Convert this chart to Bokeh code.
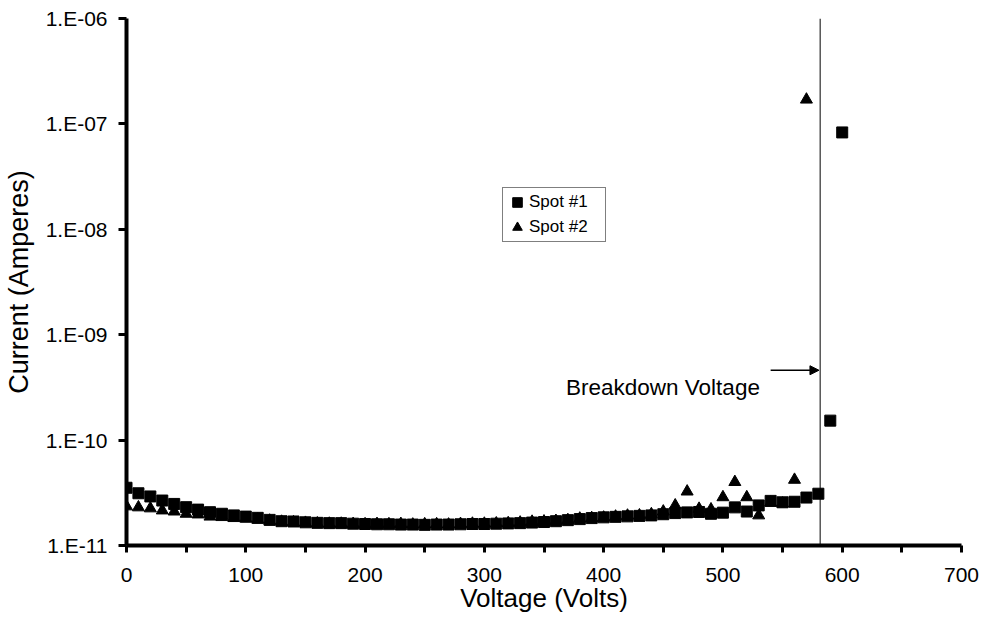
from bokeh.plotting import figure
from bokeh.models import (FixedTicker, Span, Arrow, NormalHead, Label, Legend,
                          LegendItem, ColumnDataSource, CustomJSTickFormatter)
from bokeh.embed import file_html
from bokeh.resources import INLINE

FONT = "Liberation Sans"

# ---------------- data ----------------
spot1_volts = [0, 10, 20, 30, 40, 50, 60, 70, 80, 90,
               100, 110, 120, 130, 140, 150, 160, 170, 180, 190,
               200, 210, 220, 230, 240, 250, 260, 270, 280, 290,
               300, 310, 320, 330, 340, 350, 360, 370, 380, 390,
               400, 410, 420, 430, 440, 450, 460, 470, 480, 490,
               500, 510, 520, 530, 540, 550, 560, 570, 580, 590, 600]
spot1_current = [3.53e-11, 3.13e-11, 2.92e-11, 2.67e-11, 2.48e-11, 2.31e-11, 2.19e-11, 2.07e-11, 2.00e-11, 1.93e-11,
                 1.88e-11, 1.83e-11, 1.75e-11, 1.70e-11, 1.69e-11, 1.66e-11, 1.64e-11, 1.63e-11, 1.63e-11, 1.61e-11,
                 1.60e-11, 1.59e-11, 1.59e-11, 1.58e-11, 1.58e-11, 1.57e-11, 1.58e-11, 1.58e-11, 1.59e-11, 1.60e-11,
                 1.60e-11, 1.61e-11, 1.62e-11, 1.63e-11, 1.65e-11, 1.67e-11, 1.70e-11, 1.74e-11, 1.78e-11, 1.82e-11,
                 1.85e-11, 1.87e-11, 1.89e-11, 1.91e-11, 1.93e-11, 1.98e-11, 2.03e-11, 2.06e-11, 2.08e-11, 2.00e-11,
                 2.05e-11, 2.30e-11, 2.10e-11, 2.40e-11, 2.65e-11, 2.57e-11, 2.60e-11, 2.85e-11, 3.10e-11, 1.53e-10,
                 8.3e-08]

spot2_volts = [0, 10, 20, 30, 40, 50, 60, 70, 80, 90,
               100, 110, 120, 130, 140, 150, 160, 170, 180, 190,
               200, 210, 220, 230, 240, 250, 260, 270, 280, 290,
               300, 310, 320, 330, 340, 350, 360, 370, 380, 390,
               400, 410, 420, 430, 440, 450, 460, 470, 480, 490,
               500, 510, 520, 530, 540, 550, 560, 570]
spot2_current = [2.35e-11, 2.30e-11, 2.25e-11, 2.15e-11, 2.10e-11, 2.00e-11, 1.97e-11, 1.88e-11, 1.86e-11, 1.82e-11,
                 1.80e-11, 1.76e-11, 1.72e-11, 1.68e-11, 1.66e-11, 1.64e-11, 1.62e-11, 1.61e-11, 1.61e-11, 1.60e-11,
                 1.59e-11, 1.60e-11, 1.59e-11, 1.60e-11, 1.58e-11, 1.59e-11, 1.59e-11, 1.58e-11, 1.60e-11, 1.61e-11,
                 1.61e-11, 1.62e-11, 1.63e-11, 1.65e-11, 1.68e-11, 1.69e-11, 1.71e-11, 1.74e-11, 1.80e-11, 1.82e-11,
                 1.84e-11, 1.88e-11, 1.92e-11, 1.93e-11, 1.98e-11, 2.10e-11, 2.40e-11, 3.25e-11, 2.23e-11, 2.20e-11,
                 2.87e-11, 4.00e-11, 2.87e-11, 1.93e-11, 2.55e-11, 2.50e-11, 4.20e-11, 1.70e-07]

series_names = ["Spot #1", "Spot #2"]

x_major_ticks = [0, 100, 200, 300, 400, 500, 600, 700]
x_minor_ticks = [50, 150, 250, 350, 450, 550, 650]
y_ticks = [1e-11, 1e-10, 1e-09, 1e-08, 1e-07, 1e-06]
y_tick_labels = ["1.E-11", "1.E-10", "1.E-09", "1.E-08", "1.E-07", "1.E-06"]

breakdown_voltage = 581.5
annotation_text = "Breakdown Voltage"

# ---------------- figure ----------------
p = figure(width=980, height=617, x_range=(0, 700), y_range=(1e-11, 1e-6),
           y_axis_type="log", output_backend="svg", toolbar_location=None,
           min_border_left=126, min_border_right=19, min_border_top=18, min_border_bottom=72)
p.outline_line_color = None
p.grid.visible = False
p.background_fill_color = "white"
p.border_fill_color = "white"

src1 = ColumnDataSource(dict(x=spot1_volts, y=spot1_current))
src2 = ColumnDataSource(dict(x=spot2_volts, y=spot2_current))

r1 = p.scatter("x", "y", source=src1, marker="square", size=11,
               fill_color="black", line_color="black", line_width=1)
r2 = p.scatter("x", "y", source=src2, marker="triangle", size=12,
               fill_color="black", line_color="black", line_width=1)

# x axis
xa = p.xaxis[0]
xa.ticker = FixedTicker(ticks=x_major_ticks, minor_ticks=x_minor_ticks)
xa.axis_line_width = 4
xa.axis_line_color = "black"
xa.major_tick_in = 0
xa.major_tick_out = 7
xa.minor_tick_in = 0
xa.minor_tick_out = 7
xa.major_tick_line_width = 3
xa.minor_tick_line_width = 3
xa.major_label_text_font = FONT
xa.major_label_text_font_size = "21px"
xa.major_label_text_color = "black"
xa.major_label_standoff = 15
xa.axis_label = "Voltage (Volts)"
xa.axis_label_text_font = FONT
xa.axis_label_text_font_size = "26px"
xa.axis_label_text_font_style = "normal"
xa.axis_label_text_color = "black"
xa.axis_label_standoff = -2

# y axis
ya = p.yaxis[0]
ya.ticker = FixedTicker(ticks=y_ticks, minor_ticks=[])
ya.formatter = CustomJSTickFormatter(args=dict(tick_vals=y_ticks, tick_texts=y_tick_labels), code="""
let best = -1, bd = 1e9;
for (let i = 0; i < tick_vals.length; i++) {
  const d = Math.abs(Math.log10(tick_vals[i]) - Math.log10(tick));
  if (d < bd) { bd = d; best = i; }
}
return bd < 1e-6 ? tick_texts[best] : "";
""")
ya.axis_line_width = 4
ya.axis_line_color = "black"
ya.major_tick_in = 0
ya.major_tick_out = 8
ya.major_tick_line_width = 3
ya.minor_tick_line_color = None
ya.major_label_text_font = FONT
ya.major_label_text_font_size = "21px"
ya.major_label_text_color = "black"
ya.major_label_standoff = 11
ya.axis_label = "Current (Amperes)"
ya.axis_label_text_font = FONT
ya.axis_label_text_font_size = "27px"
ya.axis_label_text_font_style = "normal"
ya.axis_label_text_color = "black"
ya.axis_label_standoff = 9

# breakdown line and annotation
p.add_layout(Span(location=breakdown_voltage, dimension="height",
                  line_color="black", line_width=1))
p.add_layout(Arrow(end=NormalHead(size=9, fill_color="black", line_color="black"),
                   x_start=540, y_start=4.6e-10, x_end=580.5, y_end=4.6e-10,
                   line_color="black", line_width=1.5))
p.add_layout(Label(x=531, y=3.18e-10, text=annotation_text, text_align="right",
                   text_baseline="alphabetic", text_font=FONT, text_font_size="22.5px",
                   text_color="black"))

legend = Legend(items=[LegendItem(label=series_names[0], renderers=[r1]),
                       LegendItem(label=series_names[1], renderers=[r2])],
                location=(376, 303), orientation="vertical",
                padding=2, spacing=1, margin=0,
                glyph_width=24, glyph_height=24, label_height=24, label_width=74,
                label_standoff=0,
                border_line_color="black", border_line_width=1,
                background_fill_color="white", background_fill_alpha=1.0,
                label_text_font=FONT, label_text_font_size="17px",
                label_text_color="black")
p.add_layout(legend)

open("out.html", "w").write(file_html(p, INLINE))
